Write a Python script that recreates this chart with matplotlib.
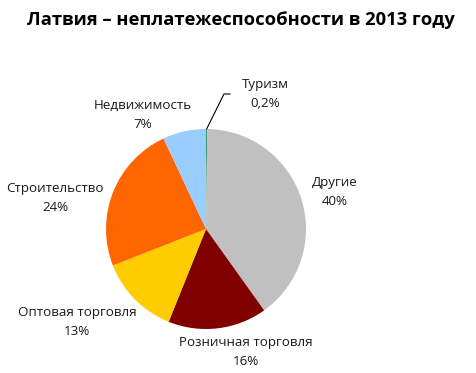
import matplotlib.pyplot as plt
import numpy as np

# Latvia insolvencies by sector, 2013 (share, %)
sectors = ['Туризм', 'Другие', 'Розничная торговля', 'Оптовая торговля',
           'Строительство', 'Недвижимость']
shares = [0.2, 40, 16, 13, 24, 7]
share_labels = ['0,2%', '40%', '16%', '13%', '24%', '7%']
colors = ['#339966', '#C0C0C0', '#800000', '#FFCC00', '#FF6600', '#99CCFF']

# label centres relative to pie (radius = 1)
label_pos = [(0.59, 1.35), (1.29, 0.37), (0.40, -1.23), (-1.29, -0.93),
             (-1.51, 0.31), (-0.63, 1.14)]

plt.rcParams['font.family'] = ['Open Sans', 'DejaVu Sans']

fig = plt.figure(figsize=(4.77, 3.73), dpi=100)
fig.text(0.506, 1 - 20 / 373, 'Латвия – неплатежеспособности в 2013 году',
         ha='center', va='center', fontsize=13.2, fontweight='bold')

ax = fig.add_axes([106 / 477, 44 / 373, 200 / 477, 200 / 373])
wedges, _ = ax.pie(shares, colors=colors, startangle=90, counterclock=False,
                   wedgeprops=dict(linewidth=0))
ax.set_xlim(-1, 1)
ax.set_ylim(-1, 1)
ax.set_aspect('equal')
ax.axis('off')

for name, lab, (x, y) in zip(sectors, share_labels, label_pos):
    ax.text(x, y, name + '\n' + lab, ha='center', va='center',
            fontsize=9.6, linespacing=1.65, color='#1a1a1a')

# leader line for the tiny slice
w = wedges[0]
ang = np.deg2rad((w.theta1 + w.theta2) / 2)
x0, y0 = np.cos(ang), np.sin(ang)
ax.plot([x0, 0.18, 0.24], [y0, 1.35, 1.35], color='black', lw=0.8,
        clip_on=False)

plt.savefig('out.png', dpi=100)
